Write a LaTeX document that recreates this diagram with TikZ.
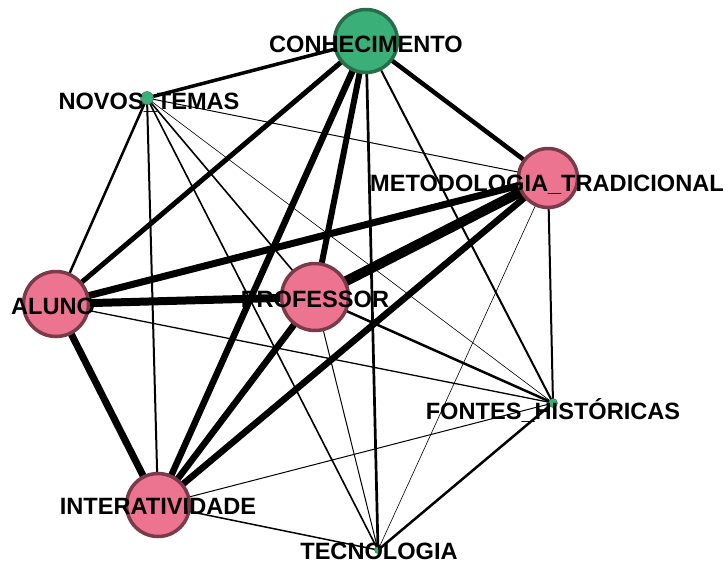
\documentclass[tikz,border=0pt]{standalone}
\usepackage{fontspec}
\setmainfont{Liberation Sans}
\definecolor{nodepink}{RGB}{236,116,144}
\definecolor{pinkrim}{RGB}{122,58,74}
\definecolor{nodegreen}{RGB}{58,175,120}
\definecolor{greenrim}{RGB}{37,110,72}
\pgfdeclarelayer{edges}
\pgfsetlayers{edges,main}
\begin{document}
\begin{tikzpicture}[x=1pt,y=-1pt,
  bignode/.style={circle,inner sep=0pt,line width=3.5pt},
  pinknode/.style={bignode,fill=nodepink,draw=pinkrim},
  greennode/.style={bignode,fill=nodegreen,draw=greenrim},
  dotnode/.style={circle,inner sep=0pt,fill=nodegreen,draw=greenrim,line width=0.4pt},
  lab/.style={inner sep=0pt,text height=16.9pt,text depth=0pt,
    font=\fontsize{23.6}{25}\selectfont\bfseries},
  tie/.style={draw=black,line cap=butt}]
\useasboundingbox (0,0) rectangle (728,566);

% vertices
\node[greennode,minimum size=63pt] (con) at (366,41) {};
\node[dotnode,minimum size=13pt]  (nov) at (147,98) {};
\node[pinknode,minimum size=59pt]  (met) at (548,178) {};
\node[pinknode,minimum size=65pt]  (alu) at (56,304) {};
\node[pinknode,minimum size=67pt]  (pro) at (315,297) {};
\node[dotnode,minimum size=9pt]   (fon) at (553,403) {};
\node[pinknode,minimum size=63pt]  (int) at (158,505) {};
\node[dotnode,minimum size=7pt]   (tec) at (378,550) {};

% weighted links, under the vertices
\begin{pgfonlayer}{edges}
\fill[white] (0,0) rectangle (728,566);
\draw[tie,line width=3.5pt] (con.center) -- (nov.center);
\draw[tie,line width=5pt]   (con.center) -- (alu.center);
\draw[tie,line width=6.5pt] (con.center) -- (int.center);
\draw[tie,line width=6pt]   (con.center) -- (pro.center);
\draw[tie,line width=4.5pt] (con.center) -- (met.center);
\draw[tie,line width=2.7pt] (con.center) -- (tec.center);
\draw[tie,line width=2pt]   (con.center) -- (fon.center);

\draw[tie,line width=2.5pt] (nov.center) -- (alu.center);
\draw[tie,line width=2pt]   (nov.center) -- (int.center);
\draw[tie,line width=1.6pt] (nov.center) -- (pro.center);
\draw[tie,line width=1.6pt] (nov.center) -- (tec.center);
\draw[tie,line width=1pt]   (nov.center) -- (met.center);
\draw[tie,line width=0.6pt] (nov.center) -- (fon.center);

\draw[tie,line width=7pt]   (met.center) -- (alu.center);
\draw[tie,line width=10pt]  (met.center) -- (pro.center);
\draw[tie,line width=6.5pt] (met.center) -- (int.center);
\draw[tie,line width=2pt]   (met.center) -- (fon.center);
\draw[tie,line width=0.6pt] (met.center) -- (tec.center);

\draw[tie,line width=8pt]   (alu.center) -- (pro.center);
\draw[tie,line width=7pt]   (alu.center) -- (int.center);
\draw[tie,line width=1.3pt] (alu.center) -- (fon.center);

\draw[tie,line width=6.5pt] (pro.center) -- (int.center);
\draw[tie,line width=2.5pt] (pro.center) -- (fon.center);
\draw[tie,line width=1pt]   (pro.center) -- (tec.center);

\draw[tie,line width=1pt]   (int.center) -- (fon.center);
\draw[tie,line width=1.5pt] (int.center) -- (tec.center);

\draw[tie,line width=2.5pt] (fon.center) -- (tec.center);
\end{pgfonlayer}

% vertex names
\node[lab] (conL) at (366,44)  {CONHECIMENTO};
\node[lab] (novL) at (149,101) {NOVOS\_TEMAS};
\node[lab] (metL) at (547,183) {METODOLOGIA\_TRADICIONAL};
\node[lab] (aluL) at (53,306)  {ALUNO};
\node[lab] (proL) at (315,299) {PROFESSOR};
\node[lab] (fonL) at (553,411) {FONTES\_HISTÓRICAS};
\node[lab] (intL) at (158,506) {INTERATIVIDADE};
\node[lab] (tecL) at (379,551) {TECNOLOGIA};
\end{tikzpicture}
\end{document}
